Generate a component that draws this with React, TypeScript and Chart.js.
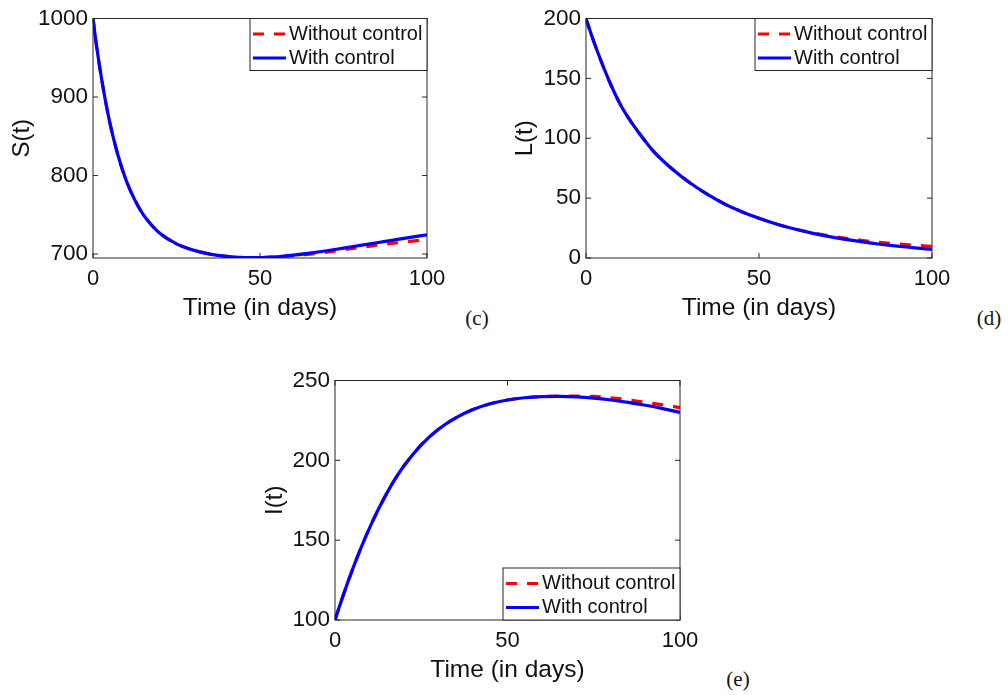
import React, { useEffect, useRef } from "react";
import { Chart, registerables } from "chart.js";

Chart.register(...registerables);

// Sample times (days)
const days = [0, 1, 2.5, 5, 7.5, 10, 12.5, 15, 17.5, 20, 25, 30, 35, 40, 45, 50, 55, 60, 65, 70, 75, 80, 85, 90, 95, 100];

// Susceptible S(t)
const susceptibleWithout = [1000, 967, 925, 868, 825.5, 793, 769, 750.5, 737, 726.5, 713, 705, 700, 697, 695.6, 695.4, 696.3, 698, 700, 702.5, 705.5, 708.5, 711.2, 713.8, 716.2, 718.5];
const susceptibleWith = [1000, 967, 925, 868, 825.5, 793, 769, 750.5, 737, 726.5, 713, 705, 700, 697, 695.6, 695.4, 696.5, 698.6, 701.2, 704.2, 707.6, 711, 714.4, 717.8, 721.2, 724.5];

// Latent L(t)
const latentWithout = [200, 191.2, 178.7, 159.7, 142.6, 127.8, 115.9, 105.6, 96.2, 87.6, 74.1, 62.8, 53.3, 45.2, 38.7, 33.2, 28.4, 24.5, 21.3, 18.7, 16.5, 14.6, 13, 11.7, 10.6, 9.7];
const latentWith = [200, 191.2, 178.7, 159.7, 142.6, 127.8, 115.9, 105.6, 96.2, 87.6, 74.1, 62.8, 53.3, 45.2, 38.7, 33.2, 28.4, 24.4, 21, 18.1, 15.6, 13.4, 11.5, 9.9, 8.5, 7.1];

// Infected I(t)
const infectedWithout = [100, 106.6, 116.2, 131.2, 145, 157.6, 169, 179.3, 188.5, 196.6, 209.7, 219.5, 226.6, 231.8, 235.4, 237.8, 239.2, 239.9, 240.2, 240.3, 240, 239.2, 237.9, 236.3, 234.7, 233];
const infectedWith = [100, 106.6, 116.2, 131.2, 145, 157.6, 169, 179.3, 188.5, 196.6, 209.7, 219.5, 226.6, 231.8, 235.4, 237.8, 239.2, 239.9, 240.1, 239.8, 239, 237.8, 236.3, 234.5, 232.4, 230];

// Axis ticks
const timeTicks = [0, 50, 100];
const susceptibleTicks = [700, 800, 900, 1000];
const latentTicks = [0, 50, 100, 150, 200];
const infectedTicks = [100, 150, 200, 250];

const seriesLabels = ["Without control", "With control"];
const timeTitle = "Time (in days)";

const SANS = '"Liberation Sans", Arial, Helvetica, sans-serif';
const TEXT = "#111111";

type Rect = { l: number; t: number; r: number; b: number };
type Panel = {
  tag: string;
  tagX: number;
  tagY: number;
  yTitle: string;
  without: number[];
  withCtl: number[];
  yMin: number;
  yMax: number;
  yTicks: number[];
  plot: Rect;
  canvasX: number;
  canvasY: number;
  legendCorner: "top" | "bottom";
};

const panels: Panel[] = [
  {
    tag: "(c)", tagX: 477, tagY: 318, yTitle: "S(t)",
    without: susceptibleWithout, withCtl: susceptibleWith,
    yMin: 695, yMax: 1000, yTicks: susceptibleTicks,
    plot: { l: 93, t: 15, r: 427, b: 258 }, canvasX: -3, canvasY: 0, legendCorner: "top",
  },
  {
    tag: "(d)", tagX: 989, tagY: 318, yTitle: "L(t)",
    without: latentWithout, withCtl: latentWith,
    yMin: 0, yMax: 200, yTicks: latentTicks,
    plot: { l: 586, t: 15, r: 932, b: 258 }, canvasX: 500, canvasY: 0, legendCorner: "top",
  },
  {
    tag: "(e)", tagX: 738, tagY: 679, yTitle: "I(t)",
    without: infectedWithout, withCtl: infectedWith,
    yMin: 100, yMax: 250, yTicks: infectedTicks,
    plot: { l: 335, t: 377, r: 680, b: 620 }, canvasX: 250, canvasY: 362, legendCorner: "bottom",
  },
];

// Box around the axes, inward tick marks on all four sides, and the boxed legend.
const framePlugin = {
  id: "frame",
  afterDatasetsDraw(chart: any, _args: any, opts: any) {
    const { ctx, chartArea: a, scales } = chart;
    ctx.save();
    ctx.strokeStyle = "#262626";
    ctx.lineWidth = 1;
    ctx.setLineDash([]);
    ctx.strokeRect(a.left, a.top, a.right - a.left, a.bottom - a.top);

    const tick = 5;
    ctx.beginPath();
    for (const t of scales.y.ticks) {
      const y = scales.y.getPixelForValue(t.value);
      ctx.moveTo(a.left, y);
      ctx.lineTo(a.left + tick, y);
      ctx.moveTo(a.right, y);
      ctx.lineTo(a.right - tick, y);
    }
    for (const t of scales.x.ticks) {
      const x = scales.x.getPixelForValue(t.value);
      ctx.moveTo(x, a.bottom);
      ctx.lineTo(x, a.bottom - tick);
      ctx.moveTo(x, a.top);
      ctx.lineTo(x, a.top + tick);
    }
    ctx.stroke();

    // legend
    const w = 177;
    const h = 52;
    const bx = a.right - w;
    const by = opts.corner === "top" ? a.top : a.bottom - h;
    ctx.fillStyle = "#ffffff";
    ctx.fillRect(bx, by, w, h);
    ctx.strokeStyle = "#262626";
    ctx.lineWidth = 1;
    ctx.strokeRect(bx, by, w, h);
    chart.data.datasets.forEach((ds: any, i: number) => {
      const y = by + 15.5 + i * 24;
      ctx.strokeStyle = ds.borderColor;
      ctx.lineWidth = ds.borderWidth;
      ctx.setLineDash(ds.borderDash || []);
      ctx.beginPath();
      ctx.moveTo(bx + 3, y);
      ctx.lineTo(bx + 36, y);
      ctx.stroke();
      ctx.setLineDash([]);
      ctx.fillStyle = TEXT;
      ctx.font = `20px ${SANS}`;
      ctx.textBaseline = "middle";
      ctx.textAlign = "left";
      ctx.fillText(ds.label, bx + 39, y);
    });
    ctx.restore();
  },
};

function PanelChart({ panel }: { panel: Panel }) {
  const ref = useRef<HTMLCanvasElement>(null);
  const p = panel.plot;
  const cw = p.r - panel.canvasX + 32;
  const ch = p.b - panel.canvasY + 87;

  useEffect(() => {
    const chart = new Chart(ref.current as HTMLCanvasElement, {
      type: "line",
      data: {
        datasets: [
          {
            label: seriesLabels[0],
            data: days.map((d, i) => ({ x: d, y: panel.without[i] })),
            borderColor: "#ff0000",
            borderWidth: 3.2,
            borderDash: [11, 10],
            pointRadius: 0,
            cubicInterpolationMode: "monotone",
            fill: false,
            order: 2,
          },
          {
            label: seriesLabels[1],
            data: days.map((d, i) => ({ x: d, y: panel.withCtl[i] })),
            borderColor: "#0000ff",
            borderWidth: 3.2,
            pointRadius: 0,
            cubicInterpolationMode: "monotone",
            fill: false,
            order: 1,
          },
        ],
      },
      options: {
        responsive: false,
        animation: false,
        devicePixelRatio: 1,
        events: [],
        layout: {
          padding: { left: 0, top: p.t - panel.canvasY, right: panel.canvasX + cw - p.r, bottom: 0 },
        },
        plugins: {
          legend: { display: false },
          tooltip: { enabled: false },
          frame: { corner: panel.legendCorner },
        } as any,
        scales: {
          x: {
            type: "linear",
            min: 0,
            max: 100,
            grid: { display: false, drawTicks: false },
            border: { display: false },
            afterBuildTicks: (s: any) => {
              s.ticks = timeTicks.map((v) => ({ value: v }));
            },
            afterFit: (s: any) => {
              s.height = panel.canvasY + ch - p.b;
            },
            ticks: {
              autoSkip: false,
              maxRotation: 0,
              padding: 8,
              color: TEXT,
              font: { family: SANS, size: 22 },
              callback: (v: any) => String(v),
            },
            title: {
              display: true,
              text: timeTitle,
              color: TEXT,
              font: { family: SANS, size: 24.5 },
              padding: { top: 0, bottom: 22.5 },
            },
          },
          y: {
            type: "linear",
            min: panel.yMin,
            max: panel.yMax,
            grid: { display: false, drawTicks: false },
            border: { display: false },
            afterBuildTicks: (s: any) => {
              s.ticks = panel.yTicks.map((v) => ({ value: v }));
            },
            afterFit: (s: any) => {
              s.width = p.l - panel.canvasX;
            },
            ticks: {
              autoSkip: false,
              padding: 5,
              color: TEXT,
              font: { family: SANS, size: 22.5 },
              callback: (v: any) => String(v),
            },
            title: {
              display: true,
              text: panel.yTitle,
              color: TEXT,
              font: { family: SANS, size: 24 },
              padding: { top: 11, bottom: 0 },
            },
          },
        },
      } as any,
      plugins: [framePlugin],
    });
    return () => chart.destroy();
  }, []);

  return (
    <canvas
      ref={ref}
      width={cw}
      height={ch}
      style={{ position: "absolute", left: panel.canvasX, top: panel.canvasY, width: cw, height: ch }}
    />
  );
}

export default function App() {
  return (
    <div
      style={{
        position: "fixed",
        left: 0,
        top: 0,
        width: 1008,
        height: 695,
        overflow: "hidden",
        background: "#ffffff",
      }}
    >
      {panels.map((panel) => (
        <PanelChart key={panel.tag} panel={panel} />
      ))}
      {panels.map((panel) => (
        <div
          key={panel.tag + "-tag"}
          style={{
            position: "absolute",
            left: panel.tagX,
            top: panel.tagY,
            transform: "translate(-50%, -50%)",
            font: '21px "Liberation Serif", "DejaVu Serif", serif',
            lineHeight: 1,
            color: TEXT,
            whiteSpace: "nowrap",
          }}
        >
          {panel.tag}
        </div>
      ))}
    </div>
  );
}
